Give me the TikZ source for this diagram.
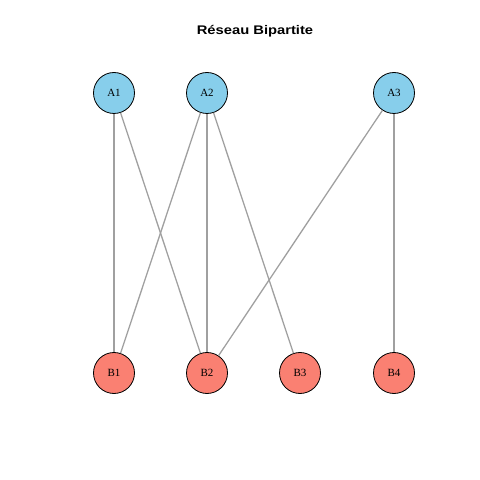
\documentclass[tikz,border=0pt]{standalone}
\usepackage{fontspec}
\setmainfont{Liberation Serif}
\newfontfamily\titlefont{Liberation Sans}
\definecolor{skyb}{HTML}{87CEEB}
\definecolor{salm}{HTML}{FA8072}
\definecolor{edgec}{HTML}{A0A0A0}
\begin{document}
\begin{tikzpicture}[x=1pt,y=1pt,
  vtx/.style={circle,draw=black,line width=0.8pt,minimum size=41pt,inner sep=0pt,font=\fontsize{11}{13}\selectfont},
  topv/.style={vtx,fill=skyb},
  botv/.style={vtx,fill=salm},
  edge/.style={draw=edgec,line width=1.3pt}]
\useasboundingbox (0,0) rectangle (480,480);
\node[anchor=base,inner sep=0pt,font=\titlefont\bfseries\fontsize{12.5}{14}\selectfont] (title) at (255,445) {\scalebox{1.18}[1]{Réseau Bipartite}};
\node[topv] (A1) at (114,387) {A1};
\node[topv] (A2) at (207,387) {A2};
\node[topv] (A3) at (394,387) {A3};
\node[botv] (B1) at (114,107) {B1};
\node[botv] (B2) at (207,107) {B2};
\node[botv] (B3) at (300,107) {B3};
\node[botv] (B4) at (394,107) {B4};
\draw[edge] (A1) -- (B1);
\draw[edge] (A1) -- (B2);
\draw[edge] (A2) -- (B1);
\draw[edge] (A2) -- (B2);
\draw[edge] (A2) -- (B3);
\draw[edge] (A3) -- (B2);
\draw[edge] (A3) -- (B4);
\end{tikzpicture}
\end{document}
